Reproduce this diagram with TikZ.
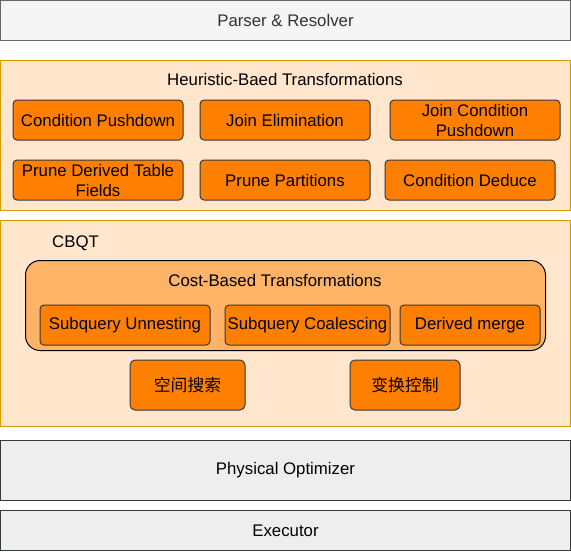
\documentclass[tikz,border=0pt]{standalone}
\usepackage{fontspec}
\setmainfont{Liberation Sans}
\newfontfamily\cjk{Noto Sans CJK SC}
\definecolor{obox}{HTML}{FF8000}
\definecolor{lorange}{HTML}{FFE6CC}
\definecolor{oborder}{HTML}{D79B00}
\definecolor{midorange}{HTML}{FFB366}
\definecolor{gfill}{HTML}{F5F5F5}
\definecolor{gborder}{HTML}{666666}
\definecolor{gtext}{HTML}{333333}
\definecolor{efill}{HTML}{EEEEEE}
\definecolor{dborder}{HTML}{36393D}
\begin{document}
\begin{tikzpicture}[x=0.75pt,y=-0.75pt,
  sz/.style 2 args={minimum width=#1*0.75pt, minimum height=#2*0.75pt},
  base/.style={inner sep=0pt, line width=0.75pt, font=\fontsize{12.6}{15}\selectfont, align=center},
  graybox/.style={base, draw=gborder, fill=gfill, text=gtext},
  layerbox/.style={base, draw=dborder, fill=efill, text=black},
  groupbox/.style={base, draw=oborder, fill=lorange},
  costbox/.style={base, draw=black, fill=midorange, rounded corners=11pt},
  stepbox/.style={base, draw=dborder, fill=obox, text=black, rounded corners=3pt},
  bigstep/.style={base, draw=dborder, fill=obox, text=black, rounded corners=3.75pt, font=\fontsize{12.6}{15}\selectfont\cjk},
  label/.style={base, text=black}
]
\useasboundingbox (0,0) rectangle (571,551);

\node[graybox, sz={570}{40}] (parser) at (285.5,20.5) {Parser \& Resolver};

\node[groupbox, sz={570}{150}] (heur) at (285.5,135.5) {};
\node[label] (heurtitle) at (285,79) {Heuristic-Baed Transformations};
\node[stepbox, sz={170}{40}] (cp) at (98,120) {Condition Pushdown};
\node[stepbox, sz={170}{40}] (je) at (285,120) {Join Elimination};
\node[stepbox, sz={170}{40}] (jcp) at (475,120) {Join Condition\\Pushdown};
\node[stepbox, sz={170}{40}] (pdtf) at (98,180) {Prune Derived Table\\Fields};
\node[stepbox, sz={170}{40}] (pp) at (285,180) {Prune Partitions};
\node[stepbox, sz={170}{40}] (cd) at (470,180) {Condition Deduce};

\node[groupbox, sz={570}{206}] (cbqt) at (285.5,323.5) {};
\node[label] (cbqttitle) at (75.5,243) {CBQT};
\node[costbox, sz={520}{90}] (cost) at (285.5,305.5) {};
\node[label] (costtitle) at (275,280) {Cost-Based Transformations};
\node[stepbox, sz={170}{40}] (su) at (125,325) {Subquery Unnesting};
\node[stepbox, sz={165}{40}] (sc) at (307.5,325) {Subquery Coalescing};
\node[stepbox, sz={140}{40}] (dm) at (470,325) {Derived merge};
\node[bigstep, sz={115}{50}] (ks) at (187.5,385) {空间搜索};
\node[bigstep, sz={110}{50}] (bh) at (405,385) {变换控制};

\node[layerbox, sz={570}{60}] (po) at (285.5,470.5) {Physical Optimizer};
\node[layerbox, sz={570}{40}] (ex) at (285.5,530.5) {Executor};
\end{tikzpicture}
\end{document}
